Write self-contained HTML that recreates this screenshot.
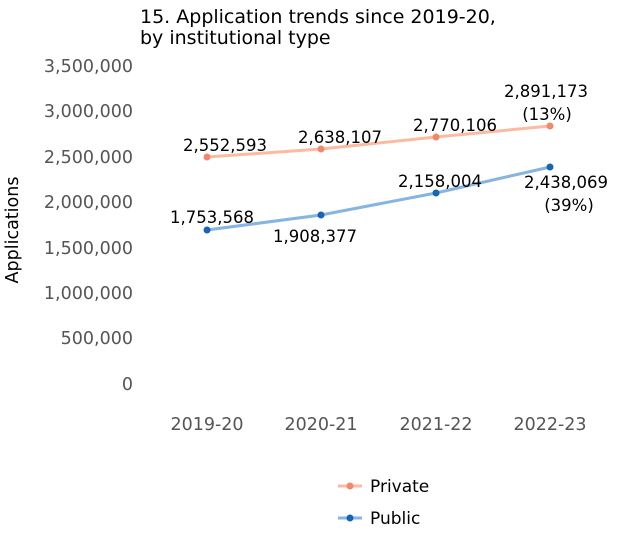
<!DOCTYPE html>
<html><head><meta charset="utf-8"><style>
body{margin:0;background:#fff;}
svg text{font-family:"DejaVu Sans","Liberation Sans",sans-serif;}
</style></head><body>
<svg width="623" height="532" xmlns="http://www.w3.org/2000/svg">
<text x="140" y="23" font-size="19" fill="#000">15. Application trends since 2019-20,</text>
<text x="140" y="44" font-size="19" fill="#000">by institutional type</text>
<g font-size="17.5" fill="#555" text-anchor="end">
<text x="133" y="72">3,500,000</text>
<text x="133" y="117">3,000,000</text>
<text x="133" y="163">2,500,000</text>
<text x="133" y="208">2,000,000</text>
<text x="133" y="254">1,500,000</text>
<text x="133" y="299">1,000,000</text>
<text x="133" y="344">500,000</text>
<text x="133" y="390">0</text>
</g>
<text transform="translate(18,230) rotate(-90)" font-size="17.5" fill="#000" text-anchor="middle">Applications</text>
<g font-size="17.5" fill="#555" text-anchor="middle">
<text x="207" y="430">2019-20</text>
<text x="321" y="430">2020-21</text>
<text x="436" y="430">2021-22</text>
<text x="550" y="430">2022-23</text>
</g>
<polyline points="207,157 321,149 436,137 550,126" fill="none" stroke="#fcbba1" stroke-width="3"/>
<polyline points="207,230 321,215 436,193 550,167" fill="none" stroke="#85b5e0" stroke-width="3"/>
<g fill="#f2876a"><circle cx="207" cy="157" r="3.5"/><circle cx="321" cy="149" r="3.5"/><circle cx="436" cy="137" r="3.5"/><circle cx="550" cy="126" r="3.5"/></g>
<g fill="#1565b0"><circle cx="207" cy="230" r="3.5"/><circle cx="321" cy="215" r="3.5"/><circle cx="436" cy="193" r="3.5"/><circle cx="550" cy="167" r="3.5"/></g>
<g font-size="16.5" fill="#000" text-anchor="middle">
<text x="225" y="151">2,552,593</text>
<text x="340" y="143">2,638,107</text>
<text x="455" y="131">2,770,106</text>
<text x="546" y="97">2,891,173</text>
<text x="547" y="120">(13%)</text>
<text x="212" y="223">1,753,568</text>
<text x="315" y="242">1,908,377</text>
<text x="440" y="187">2,158,004</text>
<text x="566" y="188">2,438,069</text>
<text x="569" y="211">(39%)</text>
</g>
<line x1="338" y1="486" x2="362" y2="486" stroke="#fcbba1" stroke-width="3"/>
<circle cx="350" cy="486" r="3.5" fill="#f2876a"/>
<text x="370" y="492" font-size="17" fill="#000">Private</text>
<line x1="338" y1="518" x2="362" y2="518" stroke="#85b5e0" stroke-width="3"/>
<circle cx="350" cy="518" r="3.5" fill="#1565b0"/>
<text x="370" y="524" font-size="17" fill="#000">Public</text>
</svg>
</body></html>
